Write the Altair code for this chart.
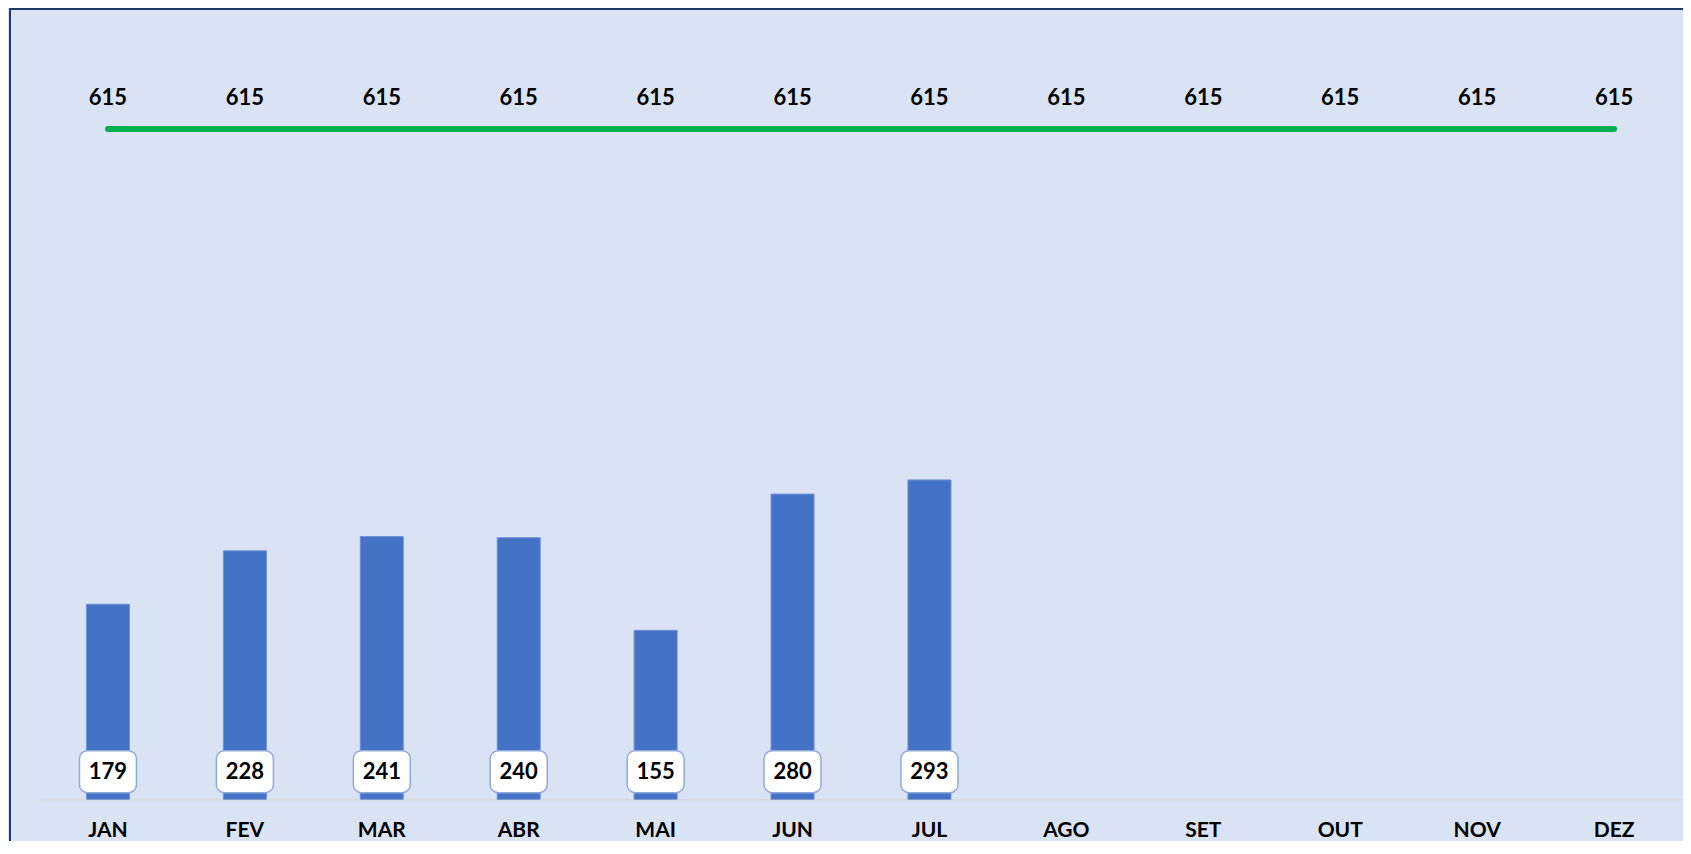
import altair as alt
import pandas as pd

# ---- data ----
months = ["JAN", "FEV", "MAR", "ABR", "MAI", "JUN", "JUL", "AGO", "SET", "OUT", "NOV", "DEZ"]
actual = [179, 228, 241, 240, 155, 280, 293, None, None, None, None, None]
target = [615, 615, 615, 615, 615, 615, 615, 615, 615, 615, 615, 615]

df = pd.DataFrame({"mes": months, "valor": actual, "meta": target})

W, H = 1643, 763
PAD_L, PAD_T, PAD_R, PAD_B = 31.5, 28.3, 0, 41.7
FONT = "Lato"
FS = 22

xenc = alt.X(
    "mes:N",
    sort=months,
    scale=alt.Scale(paddingInner=0, paddingOuter=0),
    axis=alt.Axis(
        title=None,
        labelAngle=0,
        labelFont=FONT,
        labelFontWeight="bold",
        labelFontSize=21,
        labelColor="#000000",
        labelBaseline="middle",
        labelPadding=31,
        ticks=False,
        tickSize=0,
        grid=False,
        domainColor="#d9d9d9",
        domainWidth=1.5,
    ),
)
yscale = alt.Scale(domain=[0, 700], nice=False, zero=True)

base = alt.Chart(df)

bars = base.mark_bar(size=43, color="#4472c4", stroke="#6f91d2", strokeWidth=1).encode(
    x=xenc, y=alt.Y("valor:Q", scale=yscale, axis=None)
)

line = base.mark_line(color="#00b050", strokeWidth=6, strokeCap="round").encode(
    x=xenc, y=alt.Y("meta:Q", scale=yscale, axis=None)
)

line_text = base.mark_text(
    font=FONT, fontWeight="bold", fontSize=FS, dy=-31, baseline="middle", color="#000000"
).encode(x=xenc, y=alt.Y("meta:Q", scale=yscale, axis=None), text="meta:Q")

valid = base.transform_filter("isValid(datum.valor)")

boxes = valid.mark_bar(
    size=57, cornerRadius=8, fill="#ffffff", stroke="#8eaadb", strokeWidth=1.5
).encode(x=xenc, y=alt.datum(6.1, scale=yscale, axis=None), y2=alt.datum(44.6))

val_text = valid.mark_text(
    font=FONT, fontWeight="bold", fontSize=FS, baseline="middle", color="#000000"
).encode(x=xenc, y=alt.datum(24.6, scale=yscale, axis=None), text="valor:Q")

frame_df = pd.DataFrame({"k": [0]})
frame_left = alt.Chart(frame_df).mark_rule(color="#1f3864", strokeWidth=2).encode(
    x=alt.value(-PAD_L + 2), y=alt.value(-PAD_T), y2=alt.value(H + PAD_B + 5)
)
frame_top = alt.Chart(frame_df).mark_rule(color="#1f3864", strokeWidth=2).encode(
    x=alt.value(-PAD_L + 1), x2=alt.value(W + PAD_R + 5), y=alt.value(-PAD_T + 1)
)

chart = (
    alt.layer(bars, line, line_text, boxes, val_text, frame_left, frame_top)
    .properties(
        width=W,
        height=H,
        padding={"left": PAD_L, "top": PAD_T, "right": PAD_R, "bottom": PAD_B},
        autosize=alt.AutoSizeParams(type="none"),
        background="#dae3f3",
    )
    .configure_view(stroke=None)
)

chart.save("out.html", embed_options={"renderer": "svg", "actions": False})
